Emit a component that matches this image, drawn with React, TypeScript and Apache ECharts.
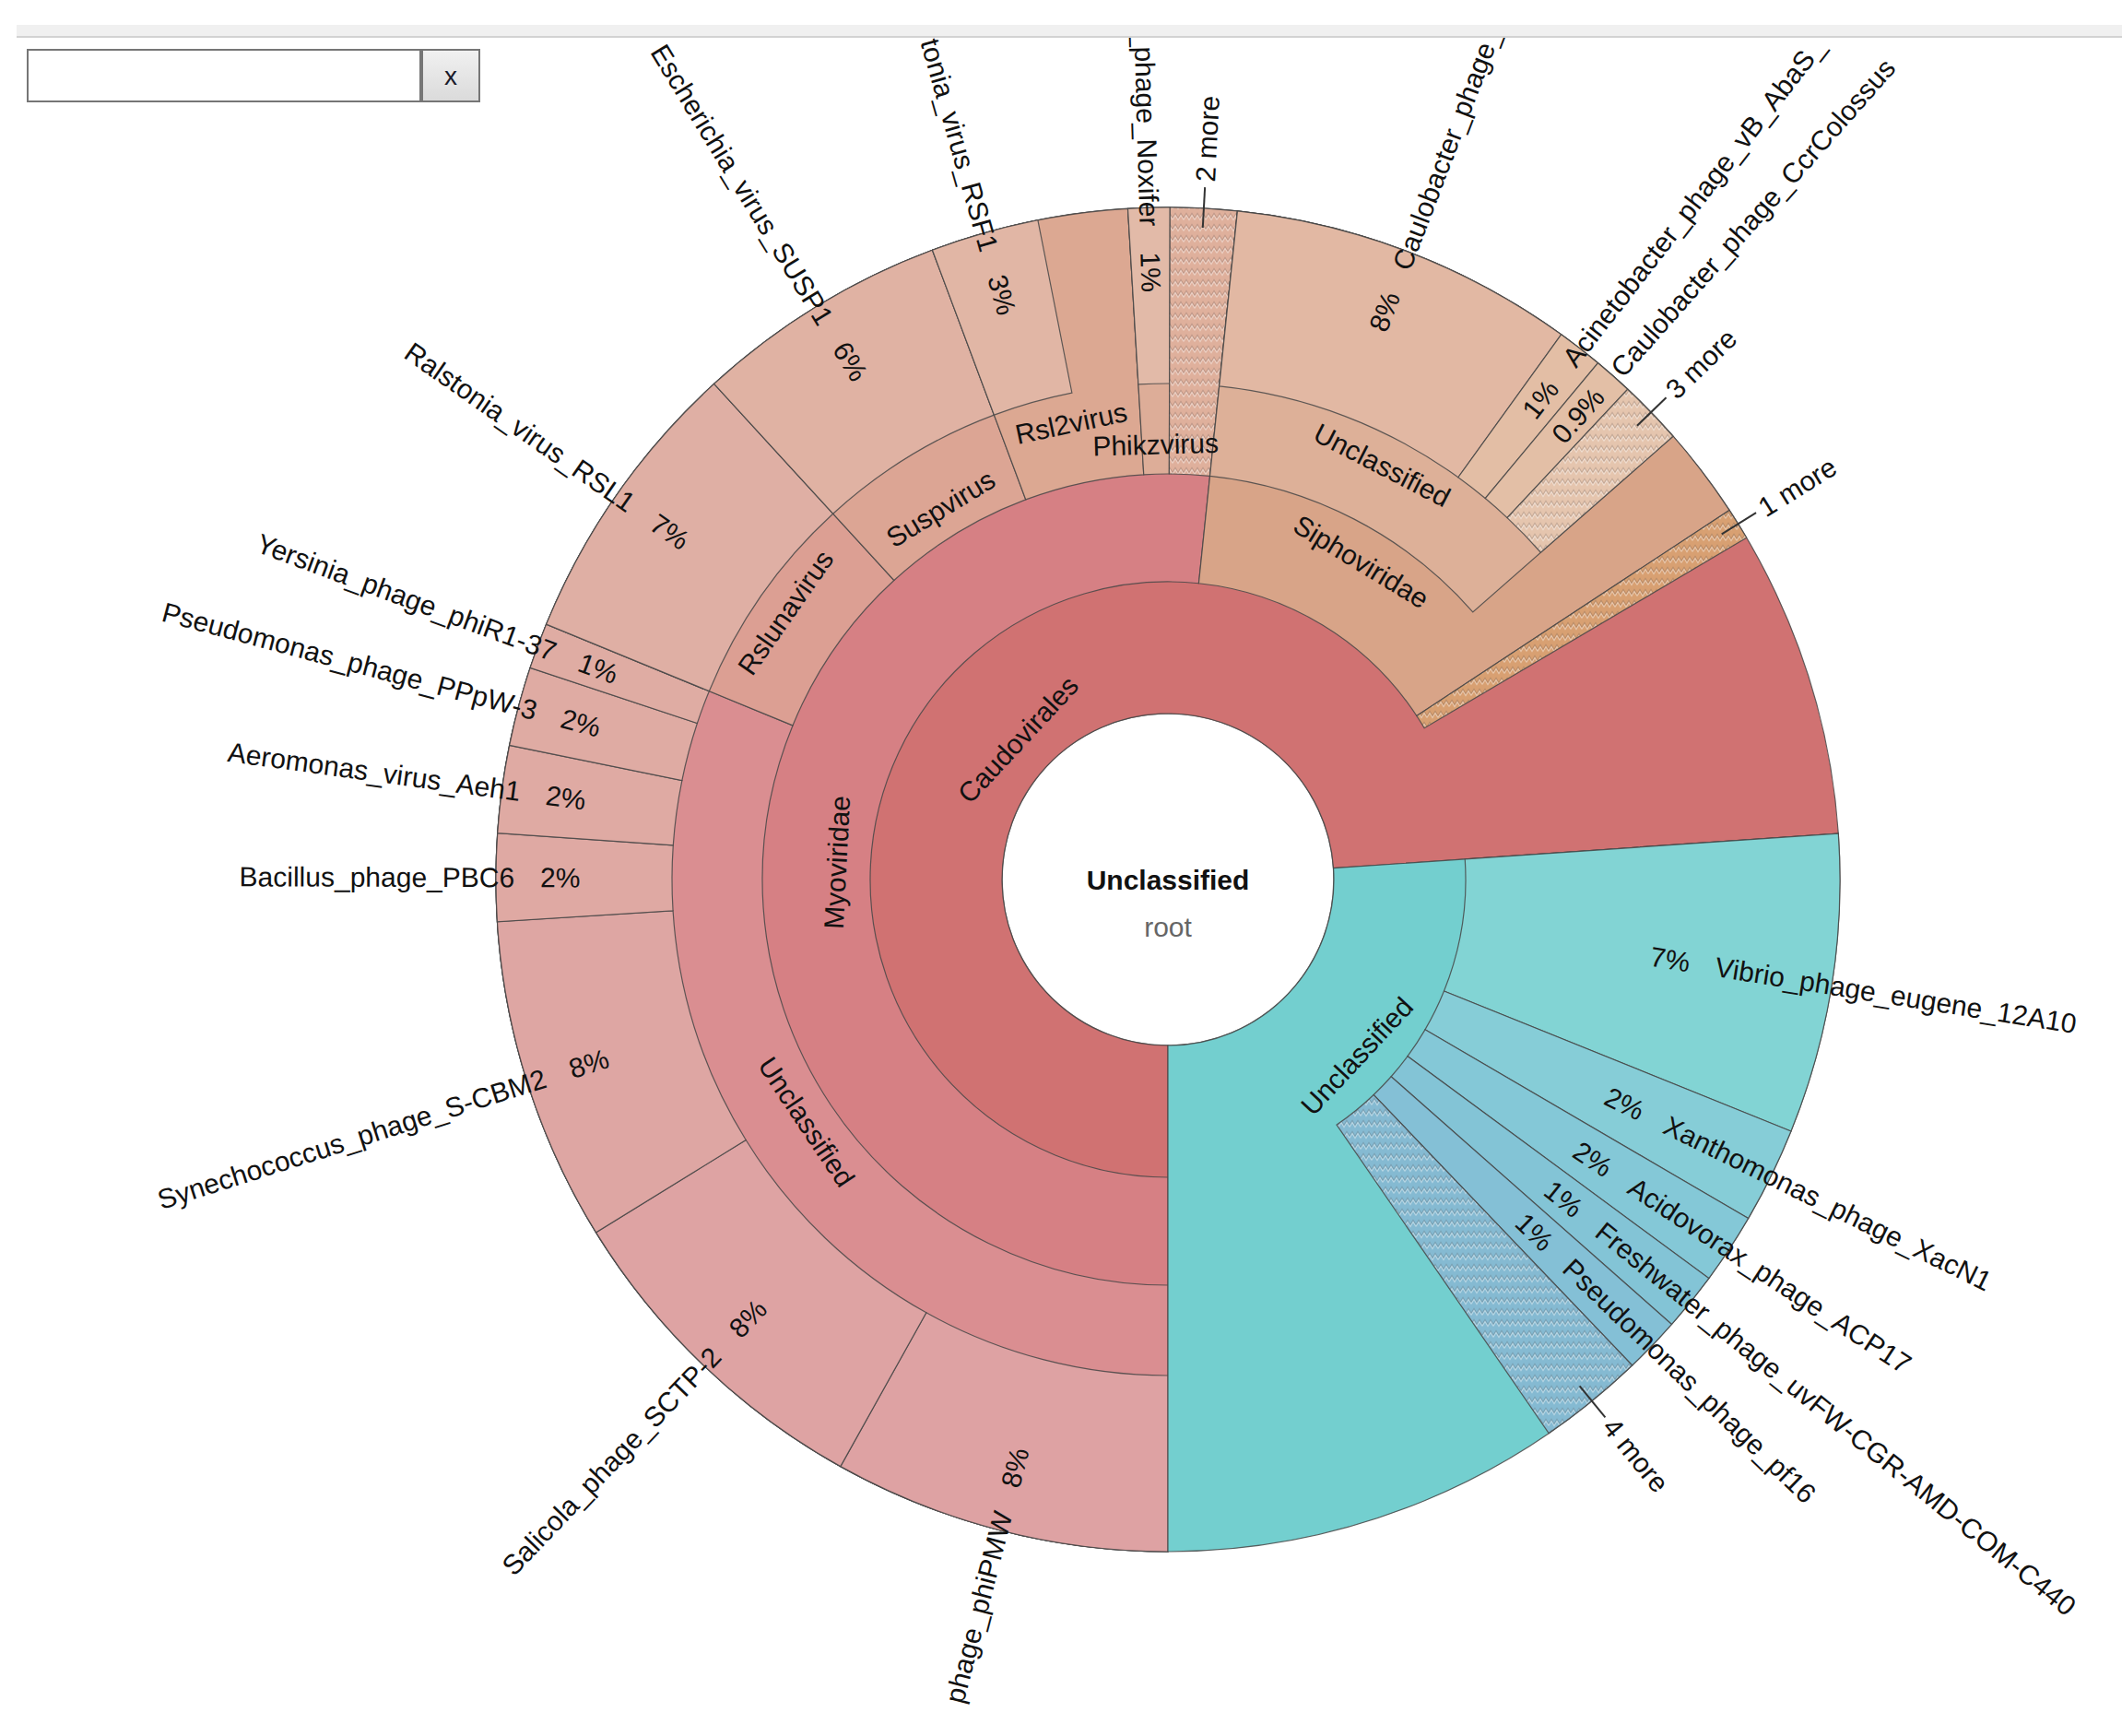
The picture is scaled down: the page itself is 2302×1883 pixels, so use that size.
import React, { useEffect, useRef } from "react";
import * as echarts from "echarts";

// ---------------- DATA (percent of all reads) ----------------
const orderNames = ["Caudovirales", "Unclassified"];
const caudoviralesFamilyNames = ["Myoviridae", "Siphoviridae"];
const myoviridaeGenusNames = ["Unclassified", "Rslunavirus", "Suspvirus", "Rsl2virus", "Phikzvirus"];
const siphoviridaeGenusNames = ["Unclassified"];

const myoUnclassifiedSpecies = [
  "phage_phiPMW",
  "Salicola_phage_SCTP-2",
  "Synechococcus_phage_S-CBM2",
  "Bacillus_phage_PBC6",
  "Aeromonas_virus_Aeh1",
  "Pseudomonas_phage_PPpW-3",
  "Yersinia_phage_phiR1-37",
];
const myoUnclassifiedPercents = [8.1, 8.1, 7.8, 2.1, 2.1, 1.9, 1.1];

const rslunavirusSpecies = ["Ralstonia_virus_RSL1"];
const rslunavirusPercents = [7.0];
const suspvirusSpecies = ["Escherichia_virus_SUSP1"];
const suspvirusPercents = [6.1];
const rsl2virusSpecies = ["tonia_virus_RSF1"];
const rsl2virusPercents = [2.6];
const phikzvirusSpecies = ["_phage_Noxifer"];
const phikzvirusPercents = [1.0];

const siphoUnclassifiedSpecies = [
  "Caulobacter_phage_",
  "Acinetobacter_phage_vB_AbaS_",
  "Caulobacter_phage_CcrColossus",
  "3 more",
];
const siphoUnclassifiedPercents = [8.3, 1.1, 0.94, 1.55];

const unclassifiedSpecies = [
  "Vibrio_phage_eugene_12A10",
  "Xanthomonas_phage_XacN1",
  "Acidovorax_phage_ACP17",
  "Freshwater_phage_uvFW-CGR-AMD-COM-C440",
  "Pseudomonas_phage_pf16",
  "4 more",
];
const unclassifiedPercents = [7.2, 2.3, 1.7, 1.4, 1.35, 2.55];

// collapsed small taxa
const collapsedLabels = ["2 more", "1 more"]; // Myoviridae genera, Caudovirales families
const collapsedPercents = [1.6, 0.77];

// reads assigned to a taxon itself, not to a child
const unassignedTaxa = ["Caudovirales", "Siphoviridae", "Rsl2virus", "Unclassified"];
const unassignedPercents = [7.4, 2.2, 2.15, 9.59];

// ---------------- STYLE / LAYOUT ----------------
const FONT_FAMILY = '"Liberation Sans", Arial, sans-serif';
const FONT_SIZE = 30;
const TEXT_COLOR = "#111";
const STROKE = "rgba(70,70,70,0.85)";
const CENTER: [number, number] = [1267, 954];
const OUTER_R = 729;
const RING_PX = [180, 323, 440, 538]; // inner radius of depth 1..4
const TANGENT_OFFSET = [0, 29, 22, 17];
const LEAF_SHIFT = 4;
const LABEL_GAP = 28;
const MORE_LEADER = [-21, 23];
const MORE_TEXT_GAP = 29;

const COLORS: Record<string, string> = {
  "Caudovirales": "#D07272",
  "Caudovirales/Myoviridae": "#D68084",
  "Caudovirales/Myoviridae/Unclassified": "#DA8E91",
  "Caudovirales/Myoviridae/Unclassified/phage_phiPMW": "#DEA2A3",
  "Caudovirales/Myoviridae/Unclassified/Salicola_phage_SCTP-2": "#DEA3A3",
  "Caudovirales/Myoviridae/Unclassified/Synechococcus_phage_S-CBM2": "#DEA6A3",
  "Caudovirales/Myoviridae/Unclassified/Bacillus_phage_PBC6": "#DFA9A3",
  "Caudovirales/Myoviridae/Unclassified/Aeromonas_virus_Aeh1": "#DFAAA3",
  "Caudovirales/Myoviridae/Unclassified/Pseudomonas_phage_PPpW-3": "#DFABA3",
  "Caudovirales/Myoviridae/Unclassified/Yersinia_phage_phiR1-37": "#DFACA3",
  "Caudovirales/Myoviridae/Rslunavirus": "#DC9F93",
  "Caudovirales/Myoviridae/Rslunavirus/Ralstonia_virus_RSL1": "#DFAFA4",
  "Caudovirales/Myoviridae/Suspvirus": "#DCA594",
  "Caudovirales/Myoviridae/Suspvirus/Escherichia_virus_SUSP1": "#E0B2A3",
  "Caudovirales/Myoviridae/Rsl2virus": "#DCA892",
  "Caudovirales/Myoviridae/Rsl2virus/tonia_virus_RSF1": "#E1B6A5",
  "Caudovirales/Myoviridae/Phikzvirus": "#DDAD98",
  "Caudovirales/Myoviridae/Phikzvirus/_phage_Noxifer": "#E2BAA8",
  "Caudovirales/Myoviridae/2 more": "#DFB09C",
  "Caudovirales/Siphoviridae": "#D8A488",
  "Caudovirales/Siphoviridae/Unclassified": "#DDB098",
  "Caudovirales/Siphoviridae/Unclassified/Caulobacter_phage_": "#E2B8A3",
  "Caudovirales/Siphoviridae/Unclassified/Acinetobacter_phage_vB_AbaS_": "#E3BEA5",
  "Caudovirales/Siphoviridae/Unclassified/Caulobacter_phage_CcrColossus": "#E3BFA6",
  "Caudovirales/Siphoviridae/Unclassified/3 more": "#E5C5AE",
  "Caudovirales/1 more": "#D8A072",
  "Unclassified": "#73CFCF",
  "Unclassified/Vibrio_phage_eugene_12A10": "#82D4D4",
  "Unclassified/Xanthomonas_phage_XacN1": "#86CDD7",
  "Unclassified/Acidovorax_phage_ACP17": "#84C8D7",
  "Unclassified/Freshwater_phage_uvFW-CGR-AMD-COM-C440": "#83C4D6",
  "Unclassified/Pseudomonas_phage_pf16": "#84C0D6",
  "Unclassified/4 more": "#85BAD2",
};

// ---------------- TREE ----------------
type Spec = { name: string; pct?: number; self?: number; children?: Spec[] };
const leaves = (names: string[], pcts: number[]): Spec[] => names.map((name, i) => ({ name, pct: pcts[i] }));
const unassigned = (taxon: string) => {
  const i = unassignedTaxa.indexOf(taxon);
  return i >= 0 ? unassignedPercents[i] : 0;
};

const taxonomy: Spec = {
  name: "Unclassified",
  children: [
    {
      name: orderNames[0],
      self: unassigned("Caudovirales"),
      children: [
        {
          name: caudoviralesFamilyNames[0],
          children: [
            { name: myoviridaeGenusNames[0], children: leaves(myoUnclassifiedSpecies, myoUnclassifiedPercents) },
            { name: myoviridaeGenusNames[1], children: leaves(rslunavirusSpecies, rslunavirusPercents) },
            { name: myoviridaeGenusNames[2], children: leaves(suspvirusSpecies, suspvirusPercents) },
            { name: myoviridaeGenusNames[3], self: unassigned("Rsl2virus"), children: leaves(rsl2virusSpecies, rsl2virusPercents) },
            { name: myoviridaeGenusNames[4], children: leaves(phikzvirusSpecies, phikzvirusPercents) },
            { name: collapsedLabels[0], pct: collapsedPercents[0] },
          ],
        },
        {
          name: caudoviralesFamilyNames[1],
          self: unassigned("Siphoviridae"),
          children: [{ name: siphoviridaeGenusNames[0], children: leaves(siphoUnclassifiedSpecies, siphoUnclassifiedPercents) }],
        },
        { name: collapsedLabels[1], pct: collapsedPercents[1] },
      ],
    },
    { name: orderNames[1], self: unassigned("Unclassified"), children: leaves(unclassifiedSpecies, unclassifiedPercents) },
  ],
};

const size = (s: Spec): number =>
  s.children ? s.children.reduce((a, c) => a + size(c), 0) + (s.self || 0) : s.pct || 0;

type Flat = { name: string; key: string; depth: number; start: number; end: number; leaf: boolean; more: boolean };
const flat: Flat[] = [];
const walk = (s: Spec, depth: number, start: number, parentKey: string) => {
  const key = depth === 0 ? "" : parentKey ? parentKey + "/" + s.name : s.name;
  flat.push({
    name: s.name,
    key,
    depth,
    start,
    end: start + size(s),
    leaf: !s.children,
    more: /^\d+ more$/.test(s.name),
  });
  let c = start;
  for (const ch of s.children || []) {
    walk(ch, depth + 1, c, key);
    c += size(ch);
  }
};
walk(taxonomy, 0, 0, "");
const TOTAL = size(taxonomy);

type Lab = { kind: "center" | "tangential" | "leaf" | "more"; node: Flat; alt: number };
const labels: Lab[] = [{ kind: "center", node: flat[0], alt: 0 }];
const altCount: Record<number, number> = {};
flat.forEach((n) => {
  if (n.depth === 0) return;
  if (n.more) labels.push({ kind: "more", node: n, alt: 0 });
  else if (n.leaf) labels.push({ kind: "leaf", node: n, alt: 0 });
  else {
    const k = altCount[n.depth] || 0;
    altCount[n.depth] = k + 1;
    labels.push({ kind: "tangential", node: n, alt: k % 2 === 0 ? -1 : 1 });
  }
});

const formatPct = (v: number) => {
  const p = (v / TOTAL) * 100;
  return p >= 0.95 ? Math.round(p) + "%" : p.toFixed(1) + "%";
};

// ---------------- HELPERS ----------------
let measureCtx: CanvasRenderingContext2D | null = null;
const measure = (s: string, weight = "normal") => {
  if (!measureCtx) measureCtx = document.createElement("canvas").getContext("2d");
  measureCtx!.font = `${weight} ${FONT_SIZE}px ${FONT_FAMILY}`;
  return measureCtx!.measureText(s).width;
};

const hatchCache: Record<string, any> = {};
const hatch = (color: string) => {
  if (hatchCache[color]) return hatchCache[color];
  const w = 12, h = 12;
  const c = document.createElement("canvas");
  c.width = w;
  c.height = h;
  const g = c.getContext("2d")!;
  g.fillStyle = color;
  g.fillRect(0, 0, w, h);
  g.lineWidth = 1.2;
  g.strokeStyle = "rgba(70,60,60,0.2)";
  g.beginPath();
  g.moveTo(0, 8.5); g.lineTo(3, 3.5); g.lineTo(6, 8.5); g.lineTo(9, 3.5); g.lineTo(12, 8.5);
  g.stroke();
  g.strokeStyle = "rgba(255,255,255,0.4)";
  g.beginPath();
  g.moveTo(0, 10.5); g.lineTo(3, 5.5); g.lineTo(6, 10.5); g.lineTo(9, 5.5); g.lineTo(12, 10.5);
  g.stroke();
  const pat = { image: c.toDataURL(), repeat: "repeat", imageWidth: w, imageHeight: h };
  hatchCache[color] = pat;
  return pat;
};

const textStyle = (text: string, weight = "normal", color = TEXT_COLOR) => ({
  text,
  x: 0,
  y: 0,
  fill: color,
  fontSize: FONT_SIZE,
  fontFamily: FONT_FAMILY,
  fontWeight: weight,
  align: "center",
  verticalAlign: "middle",
  textAlign: "center",
  textVerticalAlign: "middle",
});

const renderSector = (params: any, api: any) => {
  const n = flat[params.dataIndex];
  const cs = params.coordSys;
  const cx = cs.cx, cy = cs.cy;
  const r0v = api.value(0), a0v = api.value(1), r1v = api.value(2), a1v = api.value(3);
  if (n.depth === 0) {
    const p = api.coord([r1v, 0]);
    return {
      type: "circle",
      shape: { cx, cy, r: Math.hypot(p[0] - cx, p[1] - cy) },
      style: { fill: "#ffffff", stroke: STROKE, lineWidth: 1.5 },
    };
  }
  const pa = api.coord([r0v, a0v]);
  const pb = api.coord([r0v, a1v]);
  const pc = api.coord([r1v, a0v]);
  const r0 = Math.hypot(pa[0] - cx, pa[1] - cy);
  const r1 = Math.hypot(pc[0] - cx, pc[1] - cy);
  const sa = Math.atan2(pa[1] - cy, pa[0] - cx);
  const ea = Math.atan2(pb[1] - cy, pb[0] - cx);
  let d = ea - sa;
  while (d < 0) d += Math.PI * 2;
  while (d >= Math.PI * 2) d -= Math.PI * 2;
  const color = COLORS[n.key] || "#dddddd";
  return {
    type: "sector",
    shape: { cx, cy, r0, r: r1, startAngle: sa, endAngle: sa + d, clockwise: true },
    style: { fill: n.more ? hatch(color) : color, stroke: STROKE, lineWidth: 1.2 },
  };
};

const renderLabel = (params: any, api: any) => {
  const L = labels[params.dataIndex];
  const n = L.node;
  const cs = params.coordSys;
  const cx = cs.cx, cy = cs.cy;
  const mid = api.value(1);
  const at = (rPx: number) => api.coord([rPx / OUTER_R, mid]);

  if (L.kind === "center") {
    const c = api.coord([0, 0]);
    return {
      type: "group",
      children: [
        { type: "text", x: c[0], y: c[1], style: textStyle("Unclassified", "bold", "#111") },
        { type: "text", x: c[0], y: c[1] + 51, style: textStyle("root", "normal", "#666") },
      ],
    };
  }

  const radialText = (text: string, rCenter: number) => {
    const p = at(rCenter);
    const phi = Math.atan2(p[1] - cy, p[0] - cx);
    const read = Math.cos(phi) >= -1e-9 ? phi : phi + Math.PI;
    return { type: "text", x: p[0], y: p[1], rotation: -read, style: textStyle(text) };
  };

  if (L.kind === "tangential") {
    const d = n.depth;
    const rin = RING_PX[d - 1];
    const rout = d < RING_PX.length ? RING_PX[d] : OUTER_R;
    const r = (rin + rout) / 2 + L.alt * TANGENT_OFFSET[d];
    const p = at(r);
    const phi = Math.atan2(p[1] - cy, p[0] - cx);
    let read = phi + Math.PI / 2;
    if (Math.cos(read) < -1e-9) read += Math.PI;
    return { type: "text", x: p[0], y: p[1], rotation: -read, style: textStyle(n.name) };
  }

  if (L.kind === "leaf") {
    const a = (RING_PX[n.depth - 1] + OUTER_R) / 2 + LEAF_SHIFT;
    const pctText = formatPct(n.end - n.start);
    const wp = measure(pctText);
    const wn = measure(n.name);
    return {
      type: "group",
      children: [radialText(pctText, a + wp / 2), radialText(n.name, a + wp + LABEL_GAP + wn / 2)],
    };
  }

  // "N more"
  const p1 = at(OUTER_R + MORE_LEADER[0]);
  const p2 = at(OUTER_R + MORE_LEADER[1]);
  const wt = measure(n.name);
  return {
    type: "group",
    children: [
      {
        type: "line",
        shape: { x1: p1[0], y1: p1[1], x2: p2[0], y2: p2[1] },
        style: { stroke: "#333", lineWidth: 2 },
      },
      radialText(n.name, OUTER_R + MORE_TEXT_GAP + wt / 2),
    ],
  };
};

export default function App() {
  const ref = useRef<HTMLDivElement>(null);

  useEffect(() => {
    if (!ref.current) return;
    const chart = echarts.init(ref.current, undefined, { renderer: "svg" });
    const hiddenAxis = {
      show: false,
      axisLine: { show: false },
      axisTick: { show: false },
      axisLabel: { show: false },
      splitLine: { show: false },
      splitArea: { show: false },
    };
    chart.setOption({
      animation: false,
      backgroundColor: "#ffffff",
      polar: { center: CENTER, radius: [0, OUTER_R] },
      angleAxis: { type: "value", min: 0, max: TOTAL, startAngle: 270, clockwise: true, ...hiddenAxis },
      radiusAxis: { type: "value", min: 0, max: 1, ...hiddenAxis },
      series: [
        {
          type: "custom",
          coordinateSystem: "polar",
          silent: true,
          clip: false,
          z: 2,
          encode: { radius: 0, angle: 1 },
          data: flat.map((n) =>
            n.depth === 0
              ? [0, 0, RING_PX[0] / OUTER_R, TOTAL]
              : [RING_PX[n.depth - 1] / OUTER_R, n.start, 1, n.end]
          ),
          renderItem: renderSector,
        },
        {
          type: "custom",
          coordinateSystem: "polar",
          silent: true,
          clip: false,
          z: 3,
          encode: { radius: 0, angle: 1 },
          data: labels.map((l) => [0, (l.node.start + l.node.end) / 2]),
          renderItem: renderLabel,
        },
      ],
      graphic: [
        { type: "rect", z: 100, shape: { x: 0, y: 0, width: 2302, height: 27 }, style: { fill: "#ffffff" } },
        { type: "rect", z: 100, shape: { x: 18, y: 27, width: 2284, height: 13 }, style: { fill: "#F0F0F0" } },
        { type: "rect", z: 100, shape: { x: 18, y: 39, width: 2284, height: 2 }, style: { fill: "#D2D2D2" } },
        {
          type: "rect",
          z: 100,
          shape: { x: 30, y: 54, width: 426, height: 56 },
          style: { fill: "#ffffff", stroke: "#767676", lineWidth: 2 },
        },
        {
          type: "rect",
          z: 100,
          shape: { x: 458, y: 54, width: 62, height: 56 },
          style: {
            fill: new echarts.graphic.LinearGradient(0, 0, 0, 1, [
              { offset: 0, color: "#F1F1F1" },
              { offset: 1, color: "#DADADA" },
            ]),
            stroke: "#767676",
            lineWidth: 2,
          },
        },
        {
          type: "text",
          z: 101,
          x: 489,
          y: 82,
          style: {
            text: "x",
            fill: "#1a1a2a",
            fontSize: 28,
            fontFamily: FONT_FAMILY,
            align: "center",
            verticalAlign: "middle",
          },
        },
      ],
    });
    return () => chart.dispose();
  }, []);

  return (
    <div
      ref={ref}
      style={{ position: "fixed", left: 0, top: 0, width: 2302, height: 1883, background: "#ffffff" }}
    />
  );
}
